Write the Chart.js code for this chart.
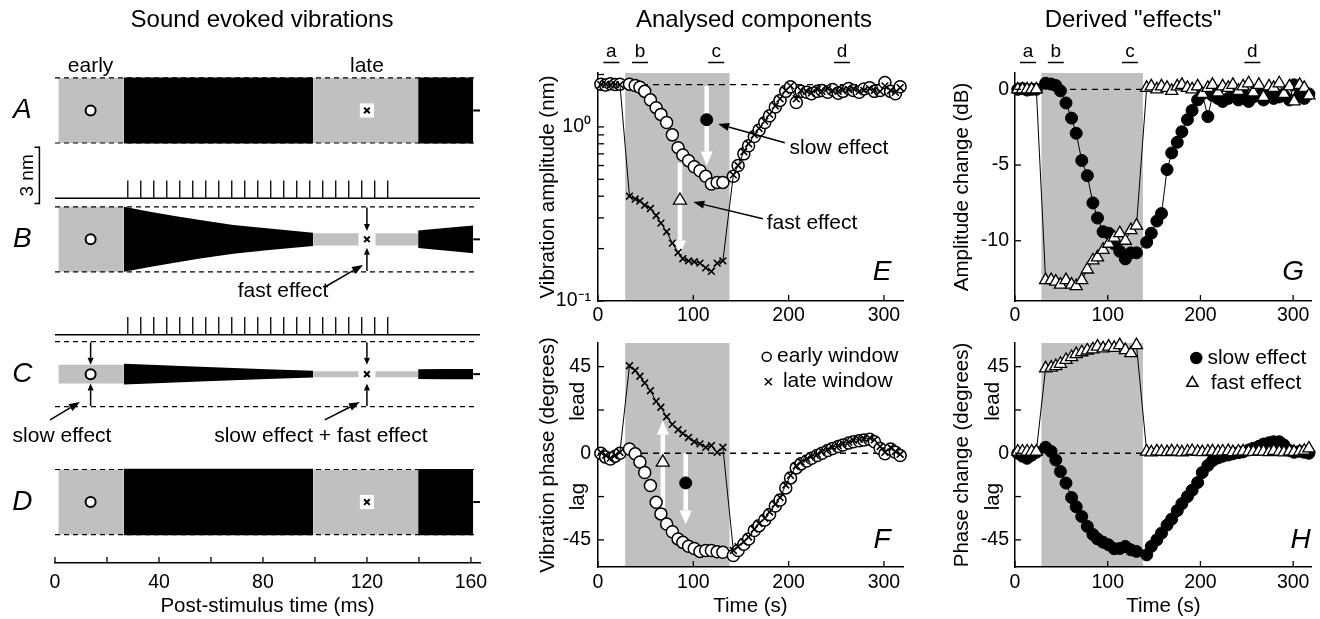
<!DOCTYPE html>
<html>
<head>
<meta charset="utf-8">
<title>Sound evoked vibrations</title>
<script src="https://cdn.jsdelivr.net/npm/chart.js@4.4.1/dist/chart.umd.min.js"></script>
<style>
  html, body { margin:0; padding:0; background:#fff; }
  #fig { position:relative; width:1320px; height:619px; overflow:hidden; font-family:"Liberation Sans", Arial, sans-serif; color:#000; }
  #fig canvas { position:absolute; left:0; top:0; }
  .ttl { position:absolute; top:4px; font-size:24px; line-height:30px; white-space:nowrap; transform:translateX(-50%); }
</style>
</head>
<body>
<div id="fig">
  <canvas id="cL" width="1320" height="619"></canvas>
  <canvas id="cE" width="1320" height="619"></canvas>
  <canvas id="cF" width="1320" height="619"></canvas>
  <canvas id="cG" width="1320" height="619"></canvas>
  <canvas id="cH" width="1320" height="619"></canvas>
  <div class="ttl" style="left:262px">Sound evoked vibrations</div>
  <div class="ttl" style="left:754px">Analysed components</div>
  <div class="ttl" style="left:1133px">Derived "effects"</div>
</div>
<script>
// ---------- panels E-H (time in s) ----------
const tSec = [3,8,13,18,23, 33,39,44,49,55,61,66,72,78,84,89,95,101,107,113,119,125,131,
  142,147,153,158,164,169,175,180,186,191,197,202,208,213,219,224,230,235,241,246,252,257,263,268,274,279,285,290,296,301,307,312,317];
const stimOn = 28.5, stimOff = 138;
const ampRef = 1.75;

// E: vibration amplitude (nm)
const ampEarly = [1.76,1.74,1.77,1.75,1.76,
  1.76,1.73,1.69,1.60,1.43,1.29,1.18,1.06,0.90,0.76,0.69,0.64,0.59,0.56,0.52,0.47,0.48,0.48,
  0.52,0.60,0.70,0.78,0.88,0.96,1.06,1.16,1.30,1.42,1.60,1.70,1.38,1.60,1.58,1.55,1.60,1.62,1.58,1.64,1.56,1.60,1.66,1.62,1.58,1.65,1.68,1.60,1.62,1.80,1.60,1.55,1.70];
const ampLate = [1.75,1.76,1.74,1.75,1.75,
  0.40,0.385,0.375,0.355,0.34,0.31,0.28,0.25,0.215,0.19,0.175,0.17,0.168,0.165,0.155,0.148,0.165,0.17,
  0.53,0.60,0.72,0.80,0.90,0.98,1.08,1.18,1.32,1.45,1.62,1.72,1.45,1.62,1.60,1.57,1.64,1.60,1.66,1.62,1.60,1.63,1.64,1.66,1.60,1.62,1.66,1.62,1.60,1.72,1.62,1.58,1.68];
// F: vibration phase (degrees)
const phaseEarly = [0,-2,-3,-1.5,0,
  2.2,-0.3,-4.5,-10,-16.8,-25.5,-31.5,-36.8,-40.8,-44.5,-46.3,-48.3,-49.5,-51,-50.5,-50.5,-51.2,-51.4,
  -53.1,-50.5,-47.3,-44.6,-40.1,-37.6,-34.7,-31.8,-27.4,-24.3,-18,-12.8,-7.6,-5.5,-4,-2.6,-1.2,0,1.4,2.5,3.5,4.3,5.3,6,6.5,6.9,7.3,6,2.5,-0.3,2.2,0.5,-1.2];
const phaseLate = [0.5,-1,-2.5,-1,0.5,
  45.5,43,40,36.5,32.5,27,23.9,19,15,12.2,10.3,8.2,6,4.9,3.1,4,0.5,3.1,
  -50.5,-48.5,-46,-43.5,-39.5,-36.5,-33.8,-30.5,-26.5,-23,-16.5,-11.5,-6.5,-4.5,-3,-1.5,-0.5,1,2,3.2,4,5,5.8,6.8,7.2,7.5,8,7,3.5,0.5,3,1,-0.5];
// G: amplitude change (dB)
const ampSlow = [0,0.05,-0.05,0,0,
  0.4,0.35,0.25,-0.1,-0.9,-1.9,-2.9,-4.7,-5.7,-7.5,-8.5,-9.4,-9.5,-10.2,-10.7,-11.2,-10.8,-10.8,
  -10.1,-9.5,-8.7,-8.2,-5.3,-4.2,-3.5,-2.8,-2.0,-1.4,-0.7,-0.3,-1.8,-0.4,-0.6,-0.8,-0.6,-0.4,-0.7,-0.3,-0.8,-0.5,-0.4,-0.7,-0.3,-0.6,-0.5,-0.4,-0.7,0.3,-0.4,-0.6,-0.3];
const ampFast = [0,0,0,0,0,
  -12.6,-12.6,-12.7,-12.9,-12.6,-12.9,-13.0,-12.6,-11.9,-11.3,-11.1,-10.6,-10.2,-9.8,-9.5,-10.0,-9.3,-9.0,
  0.1,0.2,0.0,0.2,0.1,-0.1,0.2,0.3,0.1,0.0,0.2,-0.3,0.1,0.3,-0.2,0.2,0.1,0.3,-0.1,0.2,0.4,-0.2,0.3,-0.5,0.2,0.1,0.4,-0.3,0.2,-0.8,0.3,0.1,-0.4];
// H: phase change (degrees)
const phaseSlow = [0,-1.5,-2.6,-1,0.5,
  3.1,0.9,-3.5,-9.5,-15.5,-23,-27.8,-32.9,-38,-42.2,-44.5,-46.2,-47.6,-49.6,-49.5,-48.4,-50.2,-51,
  -52.8,-48.4,-45,-41.5,-37.3,-34.2,-29.8,-26.2,-22.5,-19.2,-15.2,-10,-6.3,-3.9,-2.4,-1.5,-0.9,-0.3,0.3,0.7,1.7,2.6,3.6,4.8,5.5,6,6,4.3,1.5,0.5,1,0.5,0];
const phaseFast = [0.9,0.9,0.9,0.9,0.9,
  44.1,44.5,45.3,46.5,48.5,50,51.5,52.5,53.4,54,55.4,54.5,55.4,54.8,56.2,53.6,52,56.2,
  0.9,0.5,1,0.8,0.6,1,0.9,0.5,0.9,1.2,0.8,0.6,0.9,1,0.7,0.9,1.1,0.6,0.9,1,0.8,0.7,1,0.9,0.6,1.2,0.8,0.5,1,0.7,0.9,1.3,2.5];
// example effect markers
const slowMarkE = [114, 1.10], fastMarkE = [86, 0.378];
const slowMarkF = [92, -15.4], fastMarkF = [68, -4.7];

const timeTicks = [0,100,200,300];
const ampTicks = [0.1,0.2,0.3,0.4,0.5,0.6,0.7,0.8,0.9,1,2];
const phaseTicks = [-45,-22.5,0,22.5,45], phaseLabels = [-45,0,45];
const dbTicks = [-10,-5,0];
const epochNames = ['a','b','c','d'], epochT = [14,44,124,256];

// ---------- left panel (time in ms, displacement in nm) ----------
const msTicks = [0,20,40,60,80,100,120,140,160], msLabels = [0,40,80,120,160];
const rowNames = ['A','B','C','D'];
const rowBase = [0, -6.89, -14.1, -20.94];
const peakNm = 1.74;
const segColor = ['#c0c0c0','#000','#c0c0c0','#000'];
const envT = [[1.3,26.5],[26.5,36.5,46,55.8,68.6,81.4,99.3],[99.3,139.7],[139.7,150,160.9]];
const envA = [[1.74,1.74],[1.76,1.76,1.76,1.76,1.76,1.76,1.76],[1.74,1.74],[1.76,1.76,1.76]];
const envB = [[1.74,1.74],[1.74,1.48,1.25,1.03,0.77,0.59,0.35],[0.33,0.33],[0.47,0.6,0.74]];
const envC = [[0.5,0.5],[0.55,0.5,0.45,0.4,0.33,0.26,0.18],[0.16,0.16],[0.26,0.27,0.27]];
const envD = [[1.74,1.74],[1.78,1.78,1.78,1.78,1.78,1.78,1.78],[1.74,1.74],[1.77,1.77,1.77]];
const clickMs = [28,33,38,43,48,53,58,63,68,73,78,83,88,93,98,103,108,113,118,123,128];
const trainBase = [-4.70, -12.0], clickNm = 0.95;
const earlyMs = 13.7, lateMs = 120;

// ---------- drawing helpers ----------
const FONT = '"Liberation Sans", Arial, sans-serif';
const SHADE = '#c0c0c0';
Chart.defaults.font.family = FONT;
Chart.defaults.color = '#000';

function arrow(ctx, x1, y1, x2, y2, c, w, hl, hw){
  const a = Math.atan2(y2-y1, x2-x1), bx = x2-hl*Math.cos(a), by = y2-hl*Math.sin(a);
  ctx.strokeStyle = c; ctx.fillStyle = c; ctx.lineWidth = w;
  ctx.beginPath(); ctx.moveTo(x1,y1); ctx.lineTo(bx,by); ctx.stroke();
  ctx.beginPath(); ctx.moveTo(x2,y2);
  ctx.lineTo(bx+hw/2*Math.sin(a), by-hw/2*Math.cos(a));
  ctx.lineTo(bx-hw/2*Math.sin(a), by+hw/2*Math.cos(a));
  ctx.closePath(); ctx.fill();
}
function mark(ctx, s, x, y, r, fill){
  ctx.save(); ctx.lineWidth = 1.5; ctx.strokeStyle = '#000'; ctx.fillStyle = fill;
  ctx.beginPath();
  if (s === 'circle'){ ctx.arc(x,y,r,0,Math.PI*2); ctx.fill(); ctx.stroke(); }
  else if (s === 'cross'){ ctx.moveTo(x-r,y-r); ctx.lineTo(x+r,y+r); ctx.moveTo(x+r,y-r); ctx.lineTo(x-r,y+r); ctx.stroke(); }
  else { ctx.moveTo(x, y-r); ctx.lineTo(x+r*0.866, y+r*0.5); ctx.lineTo(x-r*0.866, y+r*0.5); ctx.closePath(); ctx.fill(); ctx.stroke(); }
  ctx.restore();
}

const DECO = {};
const deco = {
  id: 'deco',
  beforeDatasetsDraw(chart){
    const d = DECO[chart.canvas.id]; if (!d) return;
    const {ctx, chartArea:a} = chart, X = chart.scales.x, Y = chart.scales.y;
    ctx.save();
    if (d.shade){
      const x1 = X.getPixelForValue(d.shade[0]), x2 = X.getPixelForValue(d.shade[1]);
      ctx.fillStyle = SHADE; ctx.fillRect(x1, a.top, x2-x1, a.bottom-a.top-1);
    }
    (d.white||[]).forEach(w => arrow(ctx, X.getPixelForValue(w[0]), Y.getPixelForValue(w[1]), X.getPixelForValue(w[2]), Y.getPixelForValue(w[3]), '#fff', 4.5, 14, 12));
    ctx.restore();
  },
  afterDatasetsDraw(chart){
    const d = DECO[chart.canvas.id]; if (!d) return;
    const {ctx, chartArea:a} = chart, X = chart.scales.x, Y = chart.scales.y;
    ctx.save();
    ctx.strokeStyle = '#000'; ctx.lineWidth = 1.3;
    (d.tx||[]).forEach(v => { const p = X.getPixelForValue(v); ctx.beginPath(); ctx.moveTo(p, a.bottom); ctx.lineTo(p, a.bottom-d.tl); ctx.stroke(); });
    (d.ty||[]).forEach(v => { const p = Y.getPixelForValue(v); ctx.beginPath(); ctx.moveTo(a.left, p); ctx.lineTo(a.left+d.tl, p); ctx.stroke(); });
    if (d.abcd){
      ctx.font = '19px ' + FONT; ctx.textAlign = 'center'; ctx.textBaseline = 'middle'; ctx.fillStyle = '#000';
      epochNames.forEach((n,i) => {
        const p = X.getPixelForValue(epochT[i]);
        ctx.fillText(n, p, a.top-21);
        ctx.lineWidth = 1.5; ctx.beginPath(); ctx.moveTo(p-8, a.top-10.5); ctx.lineTo(p+8, a.top-10.5); ctx.stroke();
      });
    }
    (d.arrows||[]).forEach(w => arrow(ctx, X.getPixelForValue(w[0]), Y.getPixelForValue(w[1]), X.getPixelForValue(w[2]), Y.getPixelForValue(w[3]), '#000', 1.5, w[4]||11, w[5]||8));
    (d.marks||[]).forEach(m => mark(ctx, m.s, X.getPixelForValue(m.x), Y.getPixelForValue(m.y), m.r, m.f));
    (d.texts||[]).forEach(s => {
      ctx.save();
      ctx.translate(X.getPixelForValue(s.x), Y.getPixelForValue(s.y));
      if (s.rot) ctx.rotate(s.rot*Math.PI/180);
      ctx.font = (s.it ? 'italic ' : '') + (s.size||21) + 'px ' + FONT;
      ctx.textAlign = s.al||'center'; ctx.textBaseline = 'middle'; ctx.fillStyle = '#000';
      ctx.fillText(s.t, 0, 0);
      ctx.restore();
    });
    ctx.restore();
  }
};
Chart.register(deco);

function axis(o){
  return {
    type: o.type||'linear', min:o.min, max:o.max, display:o.display!==false,
    grid:{display:false, drawTicks:false},
    border:{display:true, color:'#000', width:1.5},
    afterBuildTicks: s => { s.ticks = o.ticks.map(v => ({value:v})); },
    afterFit: s => { if (o.h) s.height = o.h; if (o.w) s.width = o.w; },
    ticks:{autoSkip:false, maxRotation:0, padding:o.pad, color:'#000', font:{size:19.5},
      callback: o.fmt || (v => o.labels.includes(v) ? String(v) : '')},
    title: o.title ? {display:true, text:o.title, color:'#000', font:{size:20.5}, padding:{top:0,bottom:0}} : {display:false}
  };
}
function mk(id, datasets, x, y, pad){
  datasets.forEach(d => { d.clip = false; });
  return new Chart(document.getElementById(id), {
    type:'line',
    data:{datasets},
    options:{
      responsive:false, animation:false, events:[],
      layout:{padding:pad},
      elements:{line:{tension:0}},
      plugins:{legend:{display:false}, tooltip:{enabled:false}},
      scales:{x, y}
    }
  });
}
const pts = ys => tSec.map((t,i) => ({x:t, y:ys[i]}));
const dashed = (x0, x1, y) => ({data:[{x:x0,y},{x:x1,y}], borderColor:'#000', borderWidth:1.3, borderDash:[6,5], pointRadius:0, order:6});
const openCircles = (data, r) => ({data, showLine:false, pointStyle:'circle', pointRadius:r, pointBackgroundColor:'#fff', pointBorderColor:'#000', pointBorderWidth:1.5, order:4});
const crosses = data => ({data, borderColor:'#000', borderWidth:1, pointStyle:'crossRot', pointRadius:4.8, pointBorderColor:'#000', pointBorderWidth:1.6, order:3});
const dots = (data, r, order) => ({data, borderColor:'#000', borderWidth:1, pointStyle:'circle', pointRadius:r, pointBackgroundColor:'#000', pointBorderColor:'#000', pointBorderWidth:1, order});
const tris = (data, r, order) => ({data, borderColor:'#000', borderWidth:1, pointStyle:'triangle', pointRadius:r, pointBackgroundColor:'#fff', pointBorderColor:'#000', pointBorderWidth:1.3, order});

// ---------- E ----------
DECO.cE = {
  shade:[stimOn, stimOff], tx:timeTicks, ty:ampTicks, tl:6, abcd:true,
  white:[[slowMarkE[0],1.72,slowMarkE[0],0.60],[fastMarkE[0],0.62,fastMarkE[0],0.185]],
  arrows:[[196,0.81,126,1.04],[173,0.297,100,0.37]],
  texts:[{x:201,y:0.756,t:'slow effect',al:'left'},{x:177,y:0.279,t:'fast effect',al:'left'},{x:298,y:0.147,t:'E',size:28,it:true}]
};
mk('cE', [
  dashed(0, 320, ampRef),
  openCircles(pts(ampEarly), 6),
  crosses(pts(ampLate)),
  {...dots([{x:slowMarkE[0], y:slowMarkE[1]}], 6, 1), showLine:false},
  {...tris([{x:fastMarkE[0], y:fastMarkE[1]}], 7.5, 1), showLine:false}
],
  axis({min:0, max:320, ticks:timeTicks, labels:timeTicks, pad:3, h:30}),
  axis({type:'logarithmic', min:0.1, max:2.04, ticks:ampTicks, pad:7, w:62, title:'Vibration amplitude (nm)',
        fmt: v => v === 1 ? '10⁰' : (Math.abs(v-0.1) < 1e-9 ? '10⁻¹' : '')}),
  {left:536, right:417, top:73, bottom:288});

// ---------- F ----------
DECO.cF = {
  shade:[stimOn, stimOff], tx:timeTicks, ty:phaseTicks, tl:6,
  white:[[fastMarkF[0],-35,fastMarkF[0],17],[slowMarkF[0],0,slowMarkF[0],-37]],
  marks:[{s:'circle',x:177,y:50.2,r:4.5,f:'#fff'},{s:'cross',x:178.7,y:37.2,r:3.5,f:'#000'}],
  texts:[{x:-21,y:27,t:'lead',rot:-90,size:20.5},{x:-21,y:-22.5,t:'lag',rot:-90,size:20.5},
         {x:187.8,y:50.2,t:'early window',al:'left'},{x:194,y:37.2,t:'late window',al:'left'},
         {x:298,y:-45,t:'F',size:28,it:true}]
};
mk('cF', [
  dashed(0, 320, 0),
  openCircles(pts(phaseEarly), 6),
  crosses(pts(phaseLate)),
  {...dots([{x:slowMarkF[0], y:slowMarkF[1]}], 6, 1), showLine:false},
  {...tris([{x:fastMarkF[0], y:fastMarkF[1]}], 7.5, 1), showLine:false}
],
  axis({min:0, max:320, ticks:timeTicks, labels:timeTicks, pad:4, h:52, title:'Time (s)'}),
  axis({min:-59.1, max:57.3, ticks:phaseTicks, labels:phaseLabels, pad:7, w:62, title:'Vibration phase (degrees)'}),
  {left:536, right:417, top:343, bottom:0});

// ---------- G ----------
DECO.cG = {
  shade:[stimOn, stimOff], tx:timeTicks, ty:dbTicks, tl:6, abcd:true,
  texts:[{x:300,y:-12.1,t:'G',size:28,it:true}]
};
mk('cG', [
  dashed(0, 320, 0),
  dots(pts(ampSlow), 6, 4),
  tris(pts(ampFast), 7, 3)
],
  axis({min:0, max:320, ticks:timeTicks, labels:timeTicks, pad:3, h:30}),
  axis({min:-13.98, max:1.08, ticks:dbTicks, labels:dbTicks, pad:6, w:65, title:'Amplitude change (dB)'}),
  {left:950, right:1, top:73, bottom:288});

// ---------- H ----------
DECO.cH = {
  shade:[stimOn, stimOff], tx:timeTicks, ty:phaseTicks, tl:6,
  marks:[{s:'circle',x:195.5,y:49.5,r:5.5,f:'#000'},{s:'tri',x:191.3,y:36.5,r:6.5,f:'#fff'}],
  texts:[{x:-23,y:27,t:'lead',rot:-90,size:20.5},{x:-23,y:-22.5,t:'lag',rot:-90,size:20.5},
         {x:207.5,y:49.5,t:'slow effect',al:'left'},{x:211,y:36.5,t:'fast effect',al:'left'},
         {x:308,y:-45,t:'H',size:28,it:true}]
};
mk('cH', [
  dashed(0, 320, 0),
  dots(pts(phaseSlow), 6, 4),
  tris(pts(phaseFast), 7, 3)
],
  axis({min:0, max:320, ticks:timeTicks, labels:timeTicks, pad:4, h:52, title:'Time (s)'}),
  axis({min:-59.1, max:57.3, ticks:phaseTicks, labels:phaseLabels, pad:6, w:65, title:'Phase change (degrees)'}),
  {left:950, right:1, top:343, bottom:0});

// ---------- left: waveforms A-D ----------
const envRows = [envA, envB, envC, envD];
const L = [];
envRows.forEach((env, r) => {
  const b = rowBase[r];
  envT.forEach((ts, s) => {
    L.push({data: ts.map((t,i) => ({x:t, y:b+env[s][i]})), borderColor:'rgba(0,0,0,0)', borderWidth:1, pointRadius:0, fill:false, order:9});
    L.push({data: ts.map((t,i) => ({x:t, y:b-env[s][i]})), borderColor:'rgba(0,0,0,0)', borderWidth:1, pointRadius:0, fill:'-1', backgroundColor:segColor[s], order:9});
  });
  L.push({data:[{x:envT[3][2], y:b},{x:163.5, y:b}], borderColor:'#000', borderWidth:2, pointRadius:0, order:8});
  L.push({...dashed(0, 162, b+peakNm), borderWidth:1.2, borderDash:[5,4], order:5});
  L.push({...dashed(0, 162, b-peakNm), borderWidth:1.2, borderDash:[5,4], order:5});
  L.push({data:[{x:lateMs, y:b}], showLine:false, pointStyle:'rect', pointRadius:r === 0 || r === 3 ? 10 : 12, pointBackgroundColor:'#fff', pointBorderWidth:0, order:3});
  L.push({data:[{x:earlyMs, y:b}], showLine:false, pointStyle:'circle', pointRadius:5, pointBackgroundColor:'#fff', pointBorderColor:'#000', pointBorderWidth:2, order:1});
  L.push({data:[{x:lateMs, y:b}], showLine:false, pointStyle:'crossRot', pointRadius:4, pointBorderColor:'#000', pointBorderWidth:2, order:1});
});
trainBase.forEach(tb => {
  L.push({data:[{x:0,y:tb},{x:163.5,y:tb}], borderColor:'#000', borderWidth:1.5, pointRadius:0, order:5});
  const cl = [];
  clickMs.forEach(t => { cl.push({x:t,y:tb},{x:t,y:tb+clickNm},{x:t,y:null}); });
  L.push({data:cl, borderColor:'#000', borderWidth:1.3, pointRadius:0, spanGaps:false, order:5});
});
// 3 nm scale bar
L.push({data:[{x:-7.9,y:-1.97},{x:-6.0,y:-1.97},{x:-6.0,y:-4.97},{x:-7.9,y:-4.97}], borderColor:'#000', borderWidth:1.5, pointRadius:0, order:5});

const bB = rowBase[1], bC = rowBase[2];
DECO.cL = {
  tx:msTicks, tl:6,
  arrows:[
    [lateMs, bB+1.7, lateMs, bB+0.45, 7, 6], [lateMs, bB-1.7, lateMs, bB-0.45, 7, 6],
    [earlyMs, bC+1.7, earlyMs, bC+0.5, 7, 6], [earlyMs, bC-1.7, earlyMs, bC-0.5, 7, 6],
    [lateMs, bC+1.7, lateMs, bC+0.5, 7, 6], [lateMs, bC-1.7, lateMs, bC-0.5, 7, 6],
    [103.8,-9.44,118.5,-8.26], [-1.9,-16.55,9.6,-15.59], [103.8,-16.55,117.3,-15.59]
  ],
  texts: rowNames.map((n,i) => ({x:-12.6, y:rowBase[i], t:n, size:28, it:true})).concat([
    {x:earlyMs, y:2.38, t:'early'}, {x:lateMs, y:2.38, t:'late'},
    {x:-10.3, y:-3.47, t:'3 nm', rot:-90, size:19},
    {x:87.7, y:-9.65, t:'fast effect'},
    {x:2.7, y:-17.4, t:'slow effect'},
    {x:102.3, y:-17.4, t:'slow effect + fast effect'}
  ])
};
mk('cL', L,
  axis({min:0, max:163.5, ticks:msTicks, labels:msLabels, pad:8, h:56, title:'Post-stimulus time (ms)'}),
  {type:'linear', display:false, min:-24.2, max:2.7},
  {left:55, right:840, top:60, bottom:0});
</script>
</body>
</html>
